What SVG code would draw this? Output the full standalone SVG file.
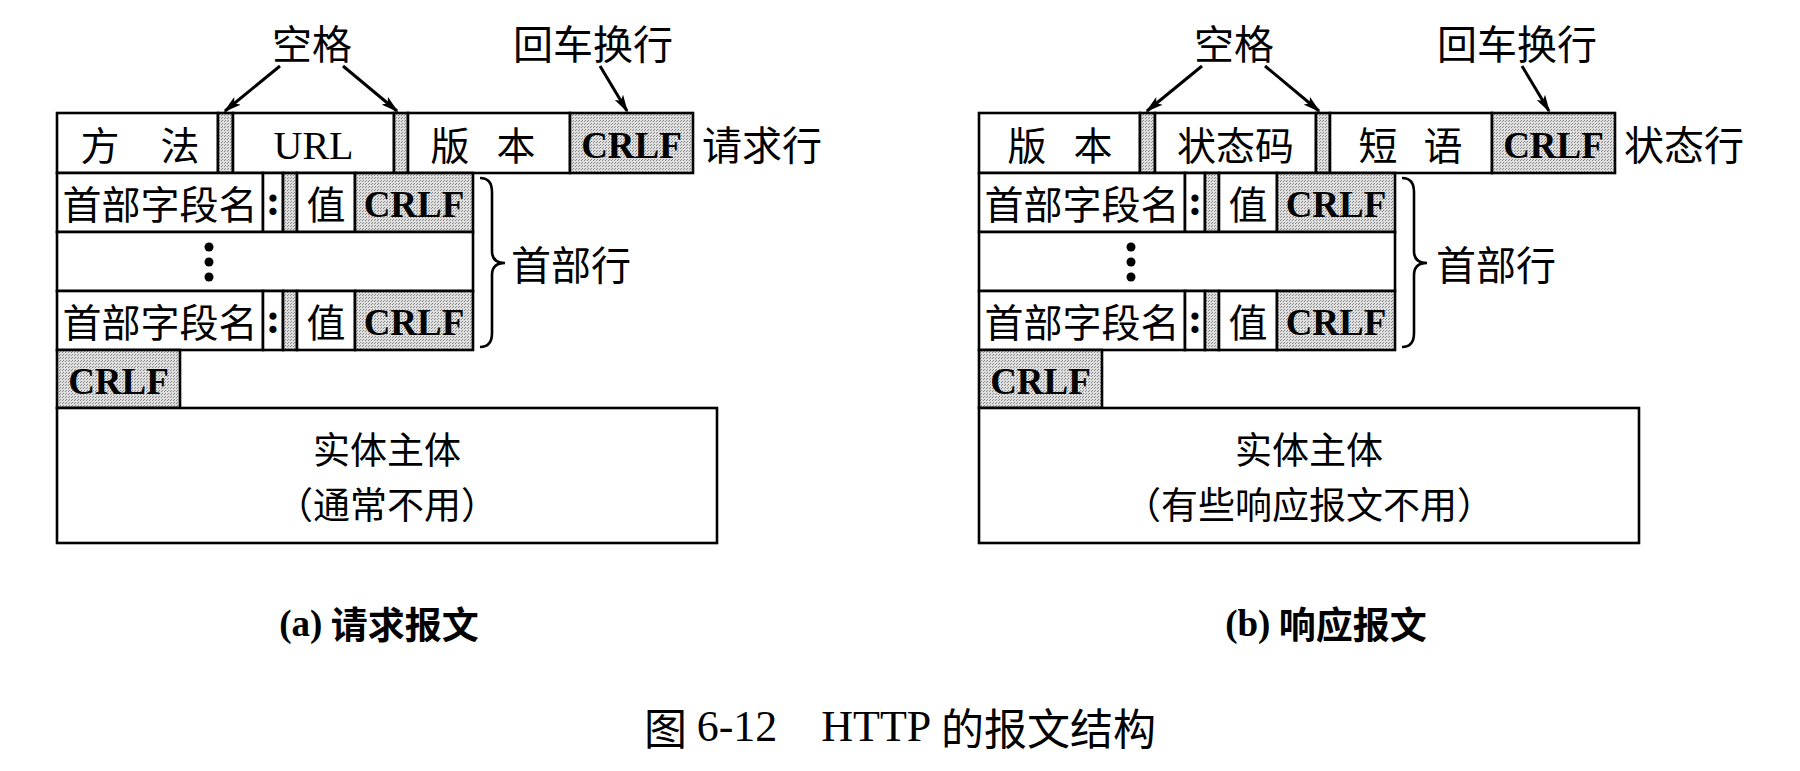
<svg xmlns="http://www.w3.org/2000/svg" width="1800" height="771" viewBox="0 0 1800 771">
<style>
.b{fill:#fff;stroke:#000;stroke-width:2.6}
.s{fill:url(#stip);stroke:#000;stroke-width:2.6}
.cj{font-family:"Noto Sans CJK SC",sans-serif;font-size:39px;fill:#000;text-anchor:middle;dominant-baseline:central}
.bd{font-family:"Noto Sans CJK SC",sans-serif;font-size:37px;fill:#000;text-anchor:middle;dominant-baseline:central}
.lb{font-family:"Noto Sans CJK SC",sans-serif;font-size:40px;fill:#000;dominant-baseline:central}
.cr{font-family:"Liberation Serif",serif;font-weight:bold;font-size:37px;fill:#000;text-anchor:middle;dominant-baseline:central}
.url{font-family:"Liberation Serif",serif;font-size:40px;fill:#000;text-anchor:middle;dominant-baseline:central}
.col{font-family:"Liberation Serif",serif;font-weight:bold;font-size:44px;fill:#000;text-anchor:middle;dominant-baseline:central}
.ar{stroke:#000;stroke-width:3;fill:none;marker-end:url(#ah)}
.br{stroke:#000;stroke-width:2.6;fill:none}
.dot{fill:#000}
.cap{font-family:"Noto Sans CJK SC",sans-serif;font-weight:bold;font-size:37px;fill:#000;text-anchor:middle;dominant-baseline:central}
.capm{font-family:"Noto Sans CJK SC",sans-serif;font-size:43px;fill:#000;dominant-baseline:central}
</style>
<defs>
<pattern id="stip" width="3" height="3" patternUnits="userSpaceOnUse">
<rect width="3" height="3" fill="#dedede"/>
<rect x="0" y="0" width="1" height="1" fill="#8a8a8a"/>
<rect x="2" y="1" width="1" height="1" fill="#8a8a8a"/>
</pattern>
<marker id="ah" markerWidth="18" markerHeight="10" refX="16" refY="5" orient="auto" markerUnits="userSpaceOnUse">
<path d="M0,0 L18,5 L0,10 L4,5 z" fill="#000"/>
</marker>
</defs>
<rect width="1800" height="771" fill="#fff"/>

<!-- ===== (a) request message ===== -->
<g id="req-method"><rect class="b" x="57" y="113" width="161" height="60"/><text class="cj" y="143"><tspan x="100">方</tspan><tspan x="180">法</tspan></text></g>
<g id="req-sp1"><rect class="s" x="218" y="113" width="15" height="60"/></g>
<g id="req-url"><rect class="b" x="233" y="113" width="161" height="60"/><text class="url" x="313.5" y="145">URL</text></g>
<g id="req-sp2"><rect class="s" x="394" y="113" width="14" height="60"/></g>
<g id="req-version"><rect class="b" x="408" y="113" width="162" height="60"/><text class="cj" y="143"><tspan x="450">版</tspan><tspan x="516">本</tspan></text></g>
<g id="req-crlf"><rect class="s" x="570" y="113" width="123" height="60"/><text class="cr" x="631.5" y="145">CRLF</text></g>
<g id="req-line-label"><text class="lb" x="702" y="143">请求行</text></g>

<g id="req-h1">
<rect class="b" x="57" y="173" width="206" height="59"/><text class="cj" x="160" y="202">首部字段名</text>
<rect class="b" x="263" y="173" width="20" height="59"/><text class="col" x="273" y="200">:</text>
<rect class="s" x="283" y="173" width="14" height="59"/>
<rect class="b" x="297" y="173" width="58" height="59"/><text class="cj" x="326" y="202">值</text>
<rect class="s" x="355" y="173" width="118" height="59"/><text class="cr" x="414" y="204">CRLF</text>
</g>
<g id="req-hdots">
<rect class="b" x="57" y="232" width="416" height="59"/>
<circle class="dot" cx="209" cy="247" r="4.5"/><circle class="dot" cx="209" cy="262" r="4.5"/><circle class="dot" cx="209" cy="277" r="4.5"/>
</g>
<g id="req-h2">
<rect class="b" x="57" y="291" width="206" height="59"/><text class="cj" x="160" y="320">首部字段名</text>
<rect class="b" x="263" y="291" width="20" height="59"/><text class="col" x="273" y="318">:</text>
<rect class="s" x="283" y="291" width="14" height="59"/>
<rect class="b" x="297" y="291" width="58" height="59"/><text class="cj" x="326" y="320">值</text>
<rect class="s" x="355" y="291" width="118" height="59"/><text class="cr" x="414" y="322">CRLF</text>
</g>
<g id="req-hlabel"><path class="br" d="M480,178 Q492,178 492,192 L492,251 Q492,263 505,263 Q492,263 492,275 L492,333 Q492,347 480,347"/><text class="lb" x="511" y="263">首部行</text></g>
<g id="req-crlf2"><rect class="s" x="57" y="350" width="123" height="58"/><text class="cr" x="118.5" y="381">CRLF</text></g>
<g id="req-body"><rect class="b" x="57" y="408" width="660" height="135"/><text class="bd" x="387" y="448">实体主体</text><text class="bd" x="387" y="503">（通常不用）</text></g>
<g id="req-lbl-sp"><text class="lb" x="312" y="42" text-anchor="middle">空格</text></g>
<g id="req-lbl-crlf"><text class="lb" x="593" y="42" text-anchor="middle">回车换行</text></g>
<g id="req-caption"><text class="cap" x="379" y="623"><tspan font-family="Liberation Serif, serif">(a)</tspan> 请求报文</text></g>

<!-- ===== (b) response message ===== -->
<g id="rsp-version"><rect class="b" x="979" y="113" width="161" height="60"/><text class="cj" y="143"><tspan x="1027">版</tspan><tspan x="1093">本</tspan></text></g>
<g id="rsp-sp1"><rect class="s" x="1140" y="113" width="15" height="60"/></g>
<g id="rsp-status"><rect class="b" x="1155" y="113" width="161" height="60"/><text class="cj" x="1235.5" y="143">状态码</text></g>
<g id="rsp-sp2"><rect class="s" x="1316" y="113" width="14" height="60"/></g>
<g id="rsp-phrase"><rect class="b" x="1330" y="113" width="162" height="60"/><text class="cj" y="143"><tspan x="1378">短</tspan><tspan x="1443">语</tspan></text></g>
<g id="rsp-crlf"><rect class="s" x="1492" y="113" width="123" height="60"/><text class="cr" x="1553.5" y="145">CRLF</text></g>
<g id="rsp-line-label"><text class="lb" x="1624" y="143">状态行</text></g>

<g id="rsp-h1">
<rect class="b" x="979" y="173" width="206" height="59"/><text class="cj" x="1082" y="202">首部字段名</text>
<rect class="b" x="1185" y="173" width="20" height="59"/><text class="col" x="1195" y="200">:</text>
<rect class="s" x="1205" y="173" width="14" height="59"/>
<rect class="b" x="1219" y="173" width="58" height="59"/><text class="cj" x="1248" y="202">值</text>
<rect class="s" x="1277" y="173" width="118" height="59"/><text class="cr" x="1336" y="204">CRLF</text>
</g>
<g id="rsp-hdots">
<rect class="b" x="979" y="232" width="416" height="59"/>
<circle class="dot" cx="1131" cy="247" r="4.5"/><circle class="dot" cx="1131" cy="262" r="4.5"/><circle class="dot" cx="1131" cy="277" r="4.5"/>
</g>
<g id="rsp-h2">
<rect class="b" x="979" y="291" width="206" height="59"/><text class="cj" x="1082" y="320">首部字段名</text>
<rect class="b" x="1185" y="291" width="20" height="59"/><text class="col" x="1195" y="318">:</text>
<rect class="s" x="1205" y="291" width="14" height="59"/>
<rect class="b" x="1219" y="291" width="58" height="59"/><text class="cj" x="1248" y="320">值</text>
<rect class="s" x="1277" y="291" width="118" height="59"/><text class="cr" x="1336" y="322">CRLF</text>
</g>
<g id="rsp-hlabel"><path class="br" d="M1402,178 Q1414,178 1414,192 L1414,251 Q1414,263 1427,263 Q1414,263 1414,275 L1414,333 Q1414,347 1402,347"/><text class="lb" x="1436" y="263">首部行</text></g>
<g id="rsp-crlf2"><rect class="s" x="979" y="350" width="123" height="58"/><text class="cr" x="1040.5" y="381">CRLF</text></g>
<g id="rsp-body"><rect class="b" x="979" y="408" width="660" height="135"/><text class="bd" x="1309" y="448">实体主体</text><text class="bd" x="1309" y="503">（有些响应报文不用）</text></g>
<g id="rsp-lbl-sp"><text class="lb" x="1234" y="42" text-anchor="middle">空格</text></g>
<g id="rsp-lbl-crlf"><text class="lb" x="1517" y="42" text-anchor="middle">回车换行</text></g>
<g id="rsp-caption"><text class="cap" x="1326" y="623"><tspan font-family="Liberation Serif, serif">(b)</tspan> 响应报文</text></g>

<g id="connectors">
<line class="ar" x1="280" y1="66" x2="225" y2="111"/>
<line class="ar" x1="343" y1="66" x2="397" y2="111"/>
<line class="ar" x1="600" y1="66" x2="627" y2="111"/>
<line class="ar" x1="1202" y1="66" x2="1147" y2="111"/>
<line class="ar" x1="1265" y1="66" x2="1319" y2="111"/>
<line class="ar" x1="1522" y1="66" x2="1549" y2="111"/>
</g>

<g id="figure-caption"><text class="capm" x="900" y="726" text-anchor="middle" xml:space="preserve">图 <tspan font-family="Liberation Serif, serif" font-size="44">6-12    HTTP</tspan> 的报文结构</text></g>
</svg>
